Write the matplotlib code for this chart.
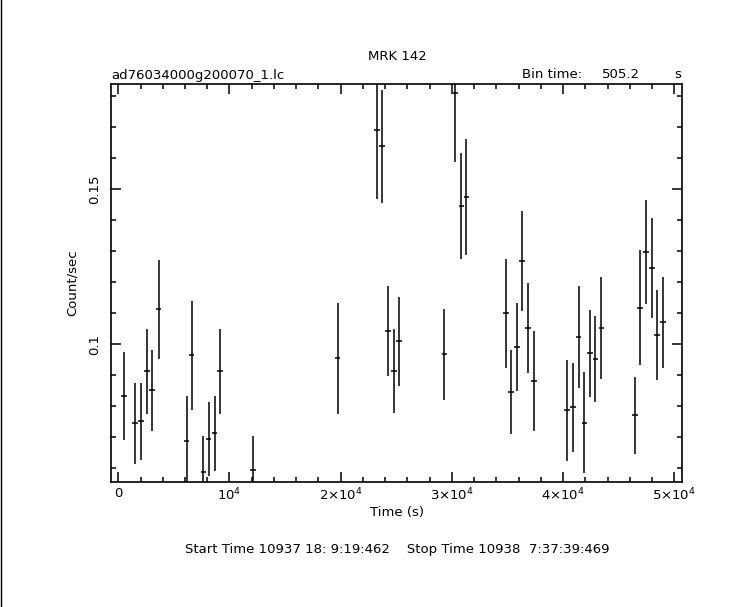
import numpy as np
import matplotlib.pyplot as plt
from matplotlib.ticker import MultipleLocator, FixedLocator, FixedFormatter
from matplotlib.lines import Line2D

# Light curve MRK 142 (bin 505.2 s)
time = [540, 1530, 2070, 2580, 3060, 3630, 6150, 6600, 7650, 8130, 8670, 9170,
        12140, 19730, 23290, 23740, 24280, 24770, 25270, 29320, 30310, 30850,
        31300, 34870, 35340, 35850, 36330, 36870, 37380, 40380, 40890, 41400,
        41910, 42420, 42900, 43440, 46440, 46940, 47460, 47970, 48470, 48980]
rate = [0.0833, 0.0745, 0.0752, 0.0913, 0.0852, 0.1113, 0.0687, 0.0965, 0.0588,
        0.0695, 0.0714, 0.0913, 0.0595, 0.0956, 0.1691, 0.1639, 0.1043, 0.0914,
        0.1010, 0.0968, 0.1810, 0.1445, 0.1474, 0.1100, 0.0846, 0.0991, 0.1269,
        0.1053, 0.0881, 0.0788, 0.0797, 0.1024, 0.0748, 0.0971, 0.0952, 0.1053,
        0.0771, 0.1119, 0.1298, 0.1246, 0.1029, 0.1071]
rate_err = [0.0142, 0.0132, 0.0124, 0.0136, 0.0131, 0.0160, 0.0146, 0.0176, 0.0116,
            0.0120, 0.0121, 0.0136, 0.0109, 0.0179, 0.0223, 0.0183, 0.0146, 0.0135,
            0.0143, 0.0146, 0.0221, 0.0171, 0.0187, 0.0177, 0.0135, 0.0141, 0.0160,
            0.0145, 0.0161, 0.0163, 0.0144, 0.0164, 0.0164, 0.0140, 0.0138, 0.0164,
            0.0125, 0.0185, 0.0169, 0.0161, 0.0145, 0.0148]
bin_time = 505.2

xticks = [0, 10000, 20000, 30000, 40000, 50000]
xlabels = ['0', r'$10^4$', r'$2{\times}10^4$', r'$3{\times}10^4$',
           r'$4{\times}10^4$', r'$5{\times}10^4$']
yticks = [0.1, 0.15]
ylabels = ['0.1', '0.15']

plt.rcParams['font.family'] = 'DejaVu Sans'
plt.rcParams['mathtext.default'] = 'regular'
fs = 9.5

fig = plt.figure(figsize=(7.56, 6.07), dpi=100)
ax = fig.add_axes([0.1468, 0.2064, 0.9025 - 0.1468, 0.8611 - 0.2064])

ax.errorbar(time, rate, xerr=bin_time / 2, yerr=rate_err, fmt='none',
            ecolor='black', elinewidth=1.1, capsize=0)

ax.set_xlim(-656, 50720)
ax.set_ylim(0.0557, 0.1839)

ax.xaxis.set_major_locator(FixedLocator(xticks))
ax.xaxis.set_major_formatter(FixedFormatter(xlabels))
ax.xaxis.set_minor_locator(MultipleLocator(2000))
ax.yaxis.set_major_locator(FixedLocator(yticks))
ax.yaxis.set_major_formatter(FixedFormatter(ylabels))
ax.yaxis.set_minor_locator(MultipleLocator(0.01))

ax.tick_params(which='both', direction='in', top=True, right=True,
               width=1.1, labelsize=fs, colors='black')
ax.tick_params(which='major', length=7.2)
ax.tick_params(which='minor', length=3.6)
ax.tick_params(axis='x', pad=3.5)
ax.tick_params(axis='y', pad=7)
for lab in ax.get_yticklabels():
    lab.set_rotation(90)
    lab.set_va('center')
for sp in ax.spines.values():
    sp.set_linewidth(1.2)

ax.set_xlabel('Time (s)', fontsize=fs, labelpad=2)
ax.set_ylabel('Count/sec', fontsize=fs, labelpad=7)

fig.text(397 / 756, 1 - 57 / 607, 'MRK 142', ha='center', va='center', fontsize=fs)
fig.text(111 / 756, 1 - 75 / 607, 'ad76034000g200070_1.lc', ha='left', va='center', fontsize=fs)
fig.text(522 / 756, 1 - 75 / 607, 'Bin time:', ha='left', va='center', fontsize=fs)
fig.text(640 / 756, 1 - 75 / 607, '505.2', ha='right', va='center', fontsize=fs)
fig.text(681 / 756, 1 - 75 / 607, 's', ha='right', va='center', fontsize=fs)
fig.text(397 / 756, 1 - 549 / 607,
         'Start Time 10937 18: 9:19:462    Stop Time 10938  7:37:39:469',
         ha='center', va='center', fontsize=fs)

fig.add_artist(Line2D([0.5 / 756, 0.5 / 756], [0, 1], color='black', linewidth=1.0,
                      transform=fig.transFigure))

fig.savefig('out.png', dpi=100)
